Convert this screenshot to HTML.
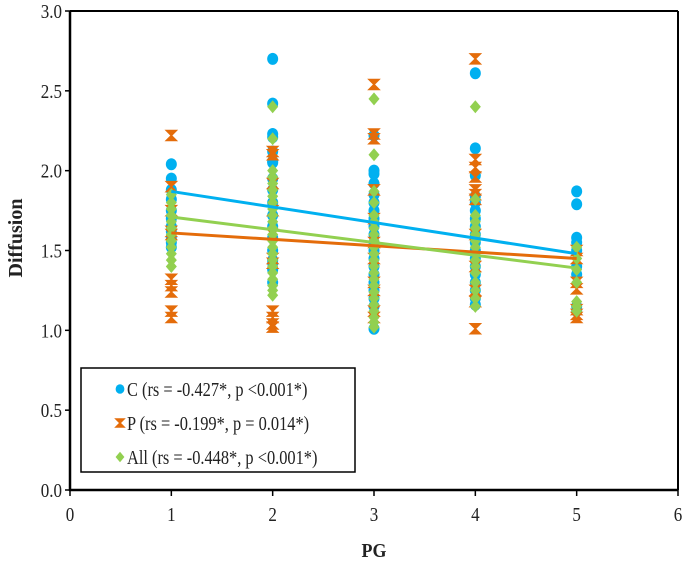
<!DOCTYPE html>
<html><head><meta charset="utf-8"><style>
html,body{margin:0;padding:0;background:#fff;}
svg{display:block;font-family:"Liberation Serif",serif;}
</style></head><body>
<svg id="chart" width="685" height="563" viewBox="0 0 685 563" xmlns="http://www.w3.org/2000/svg"></svg>
<script>
const xTicks=[0,1,2,3,4,5,6];
const yTicks=[0.0,0.5,1.0,1.5,2.0,2.5,3.0];
const cX=[1,1,1,1,1,1,1,1,1,1,1, 2,2,2,2,2,2,2,2,2,2,2,2,2,2,2,2,2,2, 3,3,3,3,3,3,3,3,3,3,3,3,3,3,3,3,3,3,3,3, 4,4,4,4,4,4,4,4,4,4,4,4,4,4,4,4,4,4, 5,5,5,5,5,5,5,5,5];
const cY=[2.04,1.95,1.88,1.82,1.75,1.70,1.65,1.62,1.58,1.55,1.52, 2.70,2.42,2.23,2.21,2.12,2.06,2.05,1.95,1.88,1.80,1.72,1.65,1.58,1.50,1.44,1.42,1.38,1.30, 2.22,2.00,1.98,1.92,1.85,1.80,1.75,1.70,1.65,1.60,1.55,1.50,1.45,1.40,1.35,1.30,1.25,1.20,1.15,1.01, 2.61,2.14,1.97,1.84,1.80,1.75,1.70,1.65,1.60,1.55,1.50,1.45,1.40,1.35,1.30,1.25,1.20,1.16, 1.87,1.79,1.58,1.55,1.50,1.40,1.35,1.15,1.12];
const pX=[1,1,1,1,1,1,1,1,1,1, 2,2,2,2,2,2,2,2,2,2,2, 3,3,3,3,3,3,3,3,3,3,3, 4,4,4,4,4,4,4,4,4,4,4,4, 5,5,5,5,5,5,5];
const pY=[2.22,1.90,1.75,1.62,1.60,1.32,1.28,1.24,1.12,1.08, 2.12,2.10,1.92,1.75,1.60,1.45,1.42,1.12,1.08,1.04,1.02, 2.54,2.23,2.20,1.88,1.70,1.55,1.45,1.30,1.25,1.12,1.08, 2.70,2.07,2.02,1.96,1.88,1.85,1.82,1.60,1.40,1.25,1.18,1.01, 1.50,1.45,1.30,1.26,1.13,1.10,1.08];
const aX=[1,1,1,1,1,1,1,1,1,1,1,1, 2,2,2,2,2,2,2,2,2,2,2,2,2,2,2,2,2,2,2,2,2,2,2, 3,3,3,3,3,3,3,3,3,3,3,3,3,3,3,3,3,3,3,3,3,3,3, 4,4,4,4,4,4,4,4,4,4,4,4,4,4,4,4,4, 5,5,5,5,5,5,5,5];
const aY=[1.85,1.80,1.76,1.72,1.68,1.64,1.60,1.56,1.52,1.48,1.44,1.40, 2.40,2.20,2.00,1.96,1.92,1.88,1.84,1.80,1.76,1.72,1.68,1.64,1.60,1.56,1.52,1.48,1.44,1.40,1.36,1.32,1.28,1.25,1.22, 2.10,1.87,1.80,1.72,1.68,1.64,1.60,1.56,1.52,1.48,1.44,1.40,1.36,1.32,1.28,1.24,1.20,1.16,1.12,1.08,1.05,1.02, 2.45,2.40,1.82,1.72,1.68,1.64,1.60,1.56,1.52,1.48,1.44,1.40,1.36,1.30,1.25,1.20,1.15, 1.58,1.52,1.45,1.38,1.30,1.18,1.15,1.12];
const trendX=[1,5];
const trendC=[1.87,1.48];
const trendP=[1.61,1.45];
const trendA=[1.71,1.39];
const legendLabels=["C (rs = -0.427*, p <0.001*)","P (rs = -0.199*, p = 0.014*)","All (rs = -0.448*, p <0.001*)"];

const NS="http://www.w3.org/2000/svg";
const svg=document.getElementById('chart');
const L=70,R=678,T=11,B=490;
const sx=v=>L+(v-0)/(6-0)*(R-L);
const sy=v=>B-(v-0)/(3-0)*(B-T);
const COL={C:"#00b0f0",P:"#e46c0a",A:"#92d050"};
function mk(tag,attrs){const e=document.createElementNS(NS,tag);for(const k in attrs)e.setAttribute(k,attrs[k]);svg.appendChild(e);return e;}

let e=mk('line',{x1:L,y1:T,x2:L,y2:B+1,stroke:"#000","stroke-width":2.5});


e=mk('line',{x1:L-1,y1:B,x2:R,y2:B,stroke:"#000","stroke-width":2.5});


e=mk('line',{x1:L,y1:T,x2:R,y2:T,stroke:"#000","stroke-width":2});


e=mk('line',{x1:R,y1:T,x2:R,y2:B,stroke:"#000","stroke-width":2});



yTicks.forEach(v=>{
  const y=sy(v);
  let t=mk('line',{x1:L-5,y1:y,x2:L,y2:y,stroke:"#000","stroke-width":1.5});
  
  
  let tx=mk('text',{x:0,y:0,"text-anchor":"end","font-size":20,fill:"#222",transform:`translate(${L-8},${y+7}) scale(0.85,1)`});
  tx.textContent=v.toFixed(1);
  
  
});
xTicks.forEach(v=>{
  const x=sx(v);
  let t=mk('line',{x1:x,y1:B,x2:x,y2:B+6,stroke:"#000","stroke-width":1.5});
  
  
  let tx=mk('text',{x:0,y:0,"text-anchor":"middle","font-size":20,fill:"#222",transform:`translate(${x},${B+31}) scale(0.85,1)`});
  tx.textContent=v;
  
  
});
e=mk('text',{x:0,y:0,"text-anchor":"middle","font-size":20,"font-weight":"bold",fill:"#222",transform:"translate(374,557) scale(0.9,1)"});
e.textContent="PG";


e=mk('text',{x:0,y:0,"text-anchor":"middle","font-size":20,"font-weight":"bold",fill:"#222",transform:"translate(22,238) rotate(-90)"});
e.textContent="Diffusion";



function circle(x,y,s){return mk('ellipse',{cx:x,cy:y,rx:5.5*s,ry:6*s,fill:COL.C});}
function bowtie(x,y,s){const d=5*s;return mk('path',{d:`M${x-d},${y-d}L${x+d},${y-d}L${x-d},${y+d}L${x+d},${y+d}Z`,fill:COL.P,stroke:COL.P,"stroke-width":1.5});}
function diamond(x,y,s){const d=6.5*s;return mk('path',{d:`M${x},${y-d}L${x+d*0.85},${y}L${x},${y+d}L${x-d*0.85},${y}Z`,fill:COL.A});}

cX.forEach((v,i)=>{const m=circle(sx(v),sy(cY[i]),1);

});
pX.forEach((v,i)=>{const m=bowtie(sx(v),sy(pY[i]),1);

});
aX.forEach((v,i)=>{const m=diamond(sx(v),sy(aY[i]),1);

});

[[trendC,COL.C,'c-trendline'],[trendP,COL.P,'p-trendline'],[trendA,COL.A,'all-trendline']].forEach(([t,c,n])=>{
  const l=mk('line',{x1:sx(trendX[0]),y1:sy(t[0]),x2:sx(trendX[1]),y2:sy(t[1]),stroke:c,"stroke-width":3});
  
  
});

e=mk('rect',{x:81,y:368,width:274,height:104,fill:"#fff",stroke:"#000","stroke-width":1.5});


const ly=[389,423,457];
const mf=[circle,bowtie,diamond];
legendLabels.forEach((s,i)=>{
  const m=mf[i](120,ly[i],0.8);
  
  
  const t=mk('text',{x:0,y:0,"font-size":20,fill:"#222",transform:`translate(127,${ly[i]+7}) scale(0.82,1)`});
  t.textContent=s;
  
  
});
</script>
</body></html>
